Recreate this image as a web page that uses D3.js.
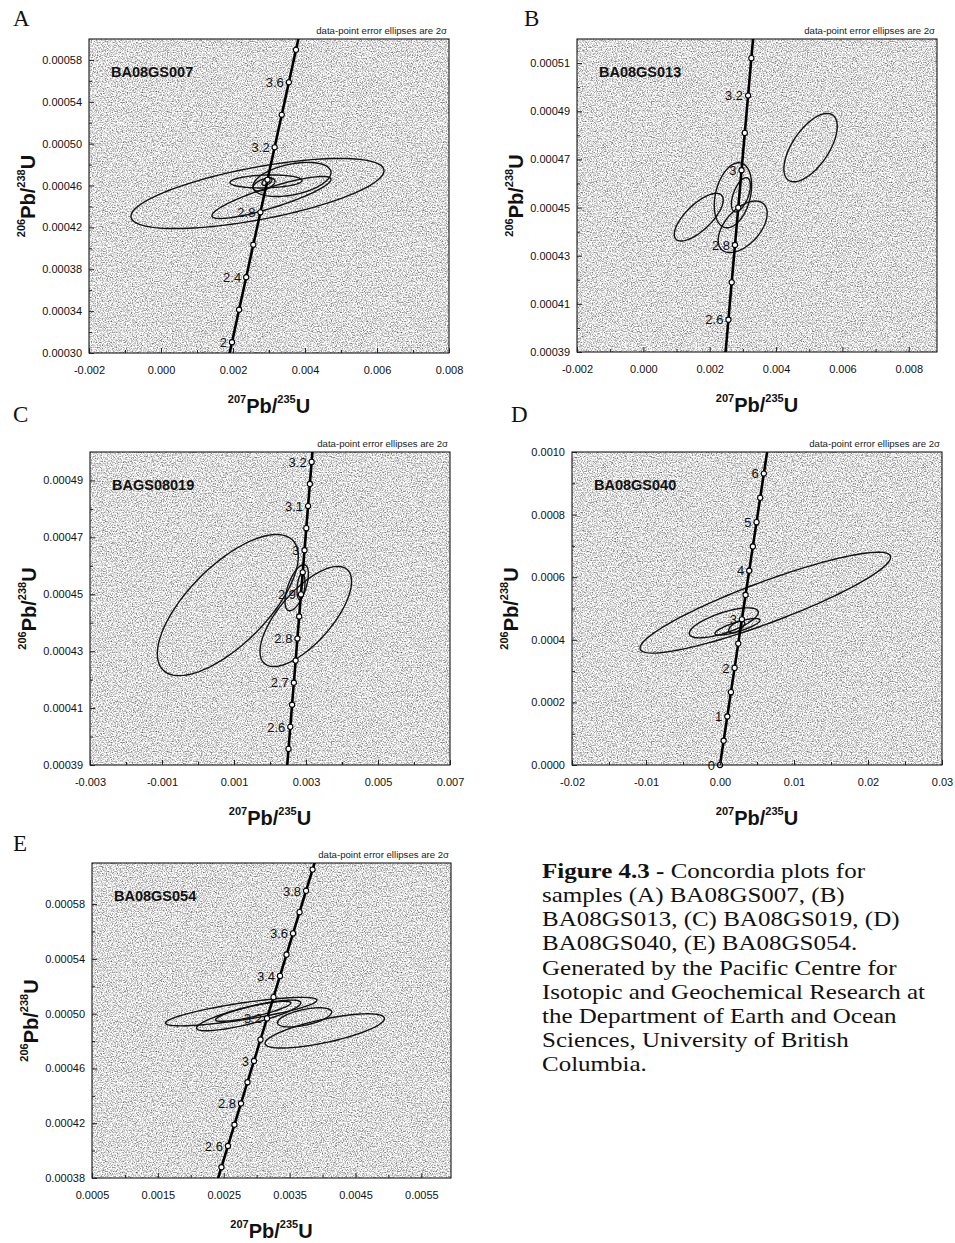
<!DOCTYPE html>
<html>
<head>
<meta charset="utf-8">
<script src="https://d3js.org/d3.v7.min.js"></script>
<style>
  body { margin: 0; background: #fff; }
  svg { display: block; }
</style>
</head>
<body>
<svg id="fig"></svg>
<script>
// panels
const panelLetters = ["A", "B", "C", "D", "E"];
const sampleNames = ["BA08GS007", "BA08GS013", "BAGS08019", "BA08GS040", "BA08GS054"];

// axis ranges (207Pb/235U on x, 206Pb/238U on y)
const xDomains = [[-0.002, 0.008], [-0.002, 0.00885], [-0.003, 0.007], [-0.02, 0.03], [0.0005, 0.00595]];
const yDomains = [[0.0003, 0.0006], [0.00039, 0.00052], [0.00039, 0.0005], [0, 0.001], [0.00038, 0.00061]];

// tick labels
const xTicks = [
  [-0.002, 0, 0.002, 0.004, 0.006, 0.008],
  [-0.002, 0, 0.002, 0.004, 0.006, 0.008],
  [-0.003, -0.001, 0.001, 0.003, 0.005, 0.007],
  [-0.02, -0.01, 0, 0.01, 0.02, 0.03],
  [0.0005, 0.0015, 0.0025, 0.0035, 0.0045, 0.0055]
];
const yTicks = [
  [0.0003, 0.00034, 0.00038, 0.00042, 0.00046, 0.0005, 0.00054, 0.00058],
  [0.00039, 0.00041, 0.00043, 0.00045, 0.00047, 0.00049, 0.00051],
  [0.00039, 0.00041, 0.00043, 0.00045, 0.00047, 0.00049],
  [0, 0.0002, 0.0004, 0.0006, 0.0008, 0.001],
  [0.00038, 0.00042, 0.00046, 0.0005, 0.00054, 0.00058]
];
const xFormats = [".3f", ".3f", ".3f", ".2f", ".4f"];
const yFormats = [".5f", ".5f", ".5f", ".4f", ".5f"];

// concordia points: [age Ma, 207Pb/235U, 206Pb/238U]
const concordiaA = [
  [1.8, 0.0017743, 0.00027926], [2.0, 0.0019716, 0.00031030], [2.2, 0.0021690, 0.00034133],
  [2.4, 0.0023664, 0.00037237], [2.6, 0.0025639, 0.00040341], [2.8, 0.0027614, 0.00043444],
  [3.0, 0.0029589, 0.00046548], [3.2, 0.0031565, 0.00049652], [3.4, 0.0033541, 0.00052756],
  [3.6, 0.0035518, 0.00055861], [3.8, 0.0037494, 0.00058965], [4.0, 0.0039472, 0.00062069]
];
const concordiaB = [
  [2.5, 0.0024652, 0.00038789], [2.6, 0.0025639, 0.00040341], [2.7, 0.0026626, 0.00041893],
  [2.8, 0.0027614, 0.00043444], [2.9, 0.0028602, 0.00044996], [3.0, 0.0029589, 0.00046548],
  [3.1, 0.0030577, 0.00048100], [3.2, 0.0031565, 0.00049652], [3.3, 0.0032553, 0.00051204],
  [3.4, 0.0033541, 0.00052756]
];
const concordiaC = [
  [2.50, 0.0024652, 0.00038789], [2.55, 0.0025145, 0.00039565], [2.60, 0.0025639, 0.00040341],
  [2.65, 0.0026133, 0.00041117], [2.70, 0.0026626, 0.00041893], [2.75, 0.0027120, 0.00042669],
  [2.80, 0.0027614, 0.00043444], [2.85, 0.0028108, 0.00044220], [2.90, 0.0028602, 0.00044996],
  [2.95, 0.0029095, 0.00045772], [3.00, 0.0029589, 0.00046548], [3.05, 0.0030083, 0.00047324],
  [3.10, 0.0030577, 0.00048100], [3.15, 0.0031071, 0.00048876], [3.20, 0.0031565, 0.00049652],
  [3.25, 0.0032059, 0.00050428]
];
const concordiaD = [
  [0, 0, 0], [0.5, 0.00049255, 0.000077566], [1.0, 0.00098534, 0.00015514],
  [1.5, 0.0014784, 0.00023271], [2.0, 0.0019716, 0.00031030], [2.5, 0.0024652, 0.00038789],
  [3.0, 0.0029589, 0.00046548], [3.5, 0.0034529, 0.00054308], [4.0, 0.0039472, 0.00062069],
  [4.5, 0.0044417, 0.00069831], [5.0, 0.0049364, 0.00077593], [5.5, 0.0054314, 0.00085355],
  [6.0, 0.0059266, 0.00093118], [6.5, 0.0064220, 0.00100882]
];
const concordiaE = [
  [2.4, 0.0023664, 0.00037237], [2.5, 0.0024652, 0.00038789], [2.6, 0.0025639, 0.00040341],
  [2.7, 0.0026626, 0.00041893], [2.8, 0.0027614, 0.00043444], [2.9, 0.0028602, 0.00044996],
  [3.0, 0.0029589, 0.00046548], [3.1, 0.0030577, 0.00048100], [3.2, 0.0031565, 0.00049652],
  [3.3, 0.0032553, 0.00051204], [3.4, 0.0033541, 0.00052756], [3.5, 0.0034529, 0.00054308],
  [3.6, 0.0035518, 0.00055861], [3.7, 0.0036506, 0.00057413], [3.8, 0.0037494, 0.00058965],
  [3.9, 0.0038483, 0.00060517], [4.0, 0.0039472, 0.00062069]
];

// labelled ages on the concordia
const ageLabelsA = [2, 2.4, 2.8, 3.2, 3.6];
const ageLabelsB = [2.6, 2.8, 3, 3.2];
const ageLabelsC = [2.6, 2.7, 2.8, 2.9, 3, 3.1, 3.2];
const ageLabelsD = [0, 1, 2, 3, 4, 5, 6];
const ageLabelsE = [2.6, 2.8, 3, 3.2, 3.4, 3.6, 3.8];

// error ellipses: [207Pb/235U, 206Pb/238U, 2s x, 2s y, rho]
const ellipsesA = [
  [0.00268, 0.0004524, 0.003514, 0.0000335, 0.65],
  [0.003069, 0.0004486, 0.001653, 0.0000201, 0.86],
  [0.003639, 0.0004658, 0.001083, 0.0000163, 0.4],
  [0.002917, 0.0004639, 0.001, 0.0000062, 0.15],
  [0.002861, 0.000461, 0.000306, 0.0000062, 0.5],
  [0.002944, 0.0004639, 0.000139, 0.0000038, 0.5]
];
const ellipsesB = [
  [0.005039, 0.0004749, 0.000804, 0.0000142, 0.62],
  [0.001669, 0.000446, 0.000738, 0.0000099, 0.72],
  [0.0027, 0.0004551, 0.000563, 0.0000135, 0.31],
  [0.002994, 0.000442, 0.000738, 0.0000107, 0.52],
  [0.00294, 0.0004553, 0.000286, 0.0000071, 0.55]
];
const ellipsesC = [
  [0.000828, 0.0004462, 0.001958, 0.0000248, 0.69],
  [0.002994, 0.0004422, 0.001272, 0.0000176, 0.7],
  [0.002742, 0.0004523, 0.000325, 0.0000081, 0.6],
  [0.002861, 0.0004527, 0.000111, 0.0000046, 0.3]
];
const ellipsesD = [
  [0.006122, 0.0005187, 0.016932, 0.0001612, 0.9],
  [0.000514, 0.0004542, 0.004662, 0.0000479, 0.7],
  [0.002365, 0.0004414, 0.00304, 0.0000265, 0.8],
  [0.002257, 0.0004414, 0.00108, 0.0000192, 0.6]
];
const ellipsesE = [
  [0.004033, 0.0004874, 0.000906, 0.0000125, 0.72],
  [0.003727, 0.0004973, 0.000411, 0.000007, 0.55],
  [0.002765, 0.0005015, 0.001149, 0.0000104, 0.8],
  [0.002879, 0.0004987, 0.000791, 0.0000112, 0.82],
  [0.002948, 0.0005017, 0.000571, 0.0000073, 0.84]
];

const captionLines = [
  "samples (A) BA08GS007, (B)",
  "BA08GS013, (C) BA08GS019, (D)",
  "BA08GS040, (E) BA08GS054.",
  "Generated by the Pacific Centre for",
  "Isotopic and Geochemical Research at",
  "the Department of Earth and Ocean",
  "Sciences, University of British",
  "Columbia."
];

const concordia = [concordiaA, concordiaB, concordiaC, concordiaD, concordiaE];
const ageLabels = [ageLabelsA, ageLabelsB, ageLabelsC, ageLabelsD, ageLabelsE];
const ellipses = [ellipsesA, ellipsesB, ellipsesC, ellipsesD, ellipsesE];

// plot frames on the page
const frames = [
  {left: 89, top: 39, right: 449, bottom: 353},
  {left: 577, top: 39, right: 937, bottom: 352},
  {left: 90, top: 452, right: 450, bottom: 765},
  {left: 572, top: 452, right: 942, bottom: 765},
  {left: 92, top: 863, right: 451, bottom: 1178}
];
const letterPos = [[13, 26], [524, 26], [13, 422], [511, 422], [13, 851]];

const sans = "'Liberation Sans', Arial, sans-serif";
const serif = "'Liberation Serif', 'Times New Roman', serif";
const fmt = d3.formatLocale({decimal: ".", thousands: ",", grouping: [3], currency: ["", ""], minus: "-"});

const svg = d3.select("#fig").attr("width", 955).attr("height", 1243);
const defs = svg.append("defs");

// speckled grey fill of the plot areas
const stip = defs.append("filter").attr("id", "stipple")
  .attr("x", 0).attr("y", 0).attr("width", 1).attr("height", 1)
  .attr("color-interpolation-filters", "sRGB");
stip.append("feTurbulence").attr("type", "fractalNoise")
  .attr("baseFrequency", 0.8).attr("numOctaves", 2).attr("seed", 7);
stip.append("feColorMatrix").attr("type", "matrix")
  .attr("values", "1.3 0 0 0 0.22  1.3 0 0 0 0.22  1.3 0 0 0 0.22  0 0 0 0 1");

function ellipsePoints(e) {
  const [cx, cy, sx, sy, rho] = e;
  const k = Math.sqrt(1 - rho * rho);
  return d3.range(0, 120).map(j => {
    const t = j / 120 * 2 * Math.PI;
    return [cx + sx * Math.cos(t), cy + sy * (rho * Math.cos(t) + k * Math.sin(t))];
  });
}

function midpoints(arr) {
  const out = [];
  for (let j = 0; j < arr.length - 1; j++) out.push((arr[j] + arr[j + 1]) / 2);
  return out;
}

function addRatio(text, sup1, sup2, big, small, shift) {
  text.append("tspan").attr("font-size", small).attr("dy", -shift).text(sup1);
  text.append("tspan").attr("font-size", big).attr("dy", shift).text("Pb/");
  text.append("tspan").attr("font-size", small).attr("dy", -shift).text(sup2);
  text.append("tspan").attr("font-size", big).attr("dy", shift).text("U");
}

function drawPanel(i) {
  const fr = frames[i];
  const x = d3.scaleLinear().domain(xDomains[i]).range([fr.left, fr.right]);
  const y = d3.scaleLinear().domain(yDomains[i]).range([fr.bottom, fr.top]);
  const g = svg.append("g");

  g.append("rect")
    .attr("x", fr.left).attr("y", fr.top)
    .attr("width", fr.right - fr.left).attr("height", fr.bottom - fr.top)
    .attr("fill", "#fff").attr("filter", "url(#stipple)");

  defs.append("clipPath").attr("id", "clip" + i).append("rect")
    .attr("x", fr.left).attr("y", fr.top)
    .attr("width", fr.right - fr.left).attr("height", fr.bottom - fr.top);
  const plot = g.append("g").attr("clip-path", `url(#clip${i})`);

  // error ellipses
  const eLine = d3.line().x(d => x(d[0])).y(d => y(d[1])).curve(d3.curveLinearClosed);
  plot.selectAll("path.ell")
    .data(ellipses[i])
    .join("path")
    .attr("class", "ell")
    .attr("d", d => eLine(ellipsePoints(d)))
    .attr("fill", "none")
    .attr("stroke", "#111")
    .attr("stroke-width", 1.4);

  // concordia curve
  const cLine = d3.line().x(d => x(d[1])).y(d => y(d[2]));
  plot.append("path")
    .attr("d", cLine(concordia[i]))
    .attr("fill", "none")
    .attr("stroke", "#000")
    .attr("stroke-width", 2.6);

  const yd = yDomains[i];
  const inside = concordia[i].filter(d => d[2] >= yd[0] - 1e-12 && d[2] <= yd[1]);
  g.selectAll("circle.age")
    .data(inside)
    .join("circle")
    .attr("class", "age")
    .attr("cx", d => x(d[1]))
    .attr("cy", d => y(d[2]))
    .attr("r", 2.6)
    .attr("fill", "#fff")
    .attr("stroke", "#000")
    .attr("stroke-width", 1.1);

  const labelled = inside.filter(d => ageLabels[i].some(a => Math.abs(a - d[0]) < 1e-6));
  g.selectAll("text.age")
    .data(labelled)
    .join("text")
    .attr("class", "age")
    .attr("x", d => x(d[1]) - 5)
    .attr("y", d => y(d[2]))
    .attr("dy", "0.36em")
    .attr("text-anchor", "end")
    .attr("font-family", sans)
    .attr("font-size", 13)
    .attr("fill", "#111")
    .text(d => String(d[0]));

  // frame
  g.append("rect")
    .attr("x", fr.left).attr("y", fr.top)
    .attr("width", fr.right - fr.left).attr("height", fr.bottom - fr.top)
    .attr("fill", "none").attr("stroke", "#000").attr("stroke-width", 1);

  // axes
  const xa = g.append("g").attr("transform", `translate(0,${fr.bottom})`)
    .call(d3.axisBottom(x).tickValues(xTicks[i]).tickSize(-5).tickPadding(13)
      .tickFormat(fmt.format(xFormats[i])));
  const xm = g.append("g").attr("transform", `translate(0,${fr.bottom})`)
    .call(d3.axisBottom(x).tickValues(midpoints(xTicks[i])).tickSize(-3).tickFormat(""));
  const ya = g.append("g").attr("transform", `translate(${fr.left},0)`)
    .call(d3.axisLeft(y).tickValues(yTicks[i]).tickSize(-5).tickPadding(7)
      .tickFormat(fmt.format(yFormats[i])));
  const ym = g.append("g").attr("transform", `translate(${fr.left},0)`)
    .call(d3.axisLeft(y).tickValues(midpoints(yTicks[i])).tickSize(-3).tickFormat(""));
  [xa, xm, ya, ym].forEach(a => {
    a.select(".domain").remove();
    a.attr("font-family", sans).attr("font-size", 11);
    a.selectAll("line").attr("stroke", "#222");
    a.selectAll("text").attr("fill", "#111");
  });

  // sample name and note
  g.append("text")
    .attr("x", fr.left + 22).attr("y", fr.top + 38)
    .attr("font-family", sans).attr("font-size", 14.5).attr("font-weight", "bold")
    .attr("fill", "#111")
    .text(sampleNames[i]);
  g.append("text")
    .attr("x", fr.right - 2).attr("y", fr.top - 5)
    .attr("text-anchor", "end")
    .attr("font-family", sans).attr("font-size", 9.6)
    .attr("fill", "#222")
    .text("data-point error ellipses are 2σ");

  // axis titles
  const xt = g.append("text")
    .attr("x", (fr.left + fr.right) / 2).attr("y", fr.bottom + 60)
    .attr("text-anchor", "middle")
    .attr("font-family", sans).attr("font-weight", "bold").attr("fill", "#111");
  addRatio(xt, "207", "235", 20, 11, 10);

  const ty = (fr.top + fr.bottom) / 2;
  const yt = g.append("text")
    .attr("transform", `translate(${fr.left - 54},${ty}) rotate(-90)`)
    .attr("text-anchor", "middle")
    .attr("font-family", sans).attr("font-weight", "bold").attr("fill", "#111");
  addRatio(yt, "206", "238", 20, 11, 10);

  // panel letter
  svg.append("text")
    .attr("x", letterPos[i][0]).attr("y", letterPos[i][1])
    .attr("font-family", serif).attr("font-size", 23).attr("fill", "#111")
    .text(panelLetters[i]);
}

panelLetters.forEach((p, i) => drawPanel(i));

// figure caption (tight leading, so a slightly smaller face stretched to the original width)
const capSize = 21;
const capStretch = 25 / 21;
const cap = svg.append("g")
  .attr("transform", `translate(542,0) scale(${capStretch},1)`)
  .attr("font-family", serif).attr("font-size", capSize).attr("fill", "#111");
const first = cap.append("text").attr("x", 0).attr("y", 878);
first.append("tspan").attr("font-weight", "bold").text("Figure 4.3 -");
first.append("tspan").text(" Concordia plots for");
cap.selectAll("text.line")
  .data(captionLines)
  .join("text")
  .attr("class", "line")
  .attr("x", 0)
  .attr("y", (d, j) => 878 + (j + 1) * 24.15)
  .text(d => d);
</script>
</body>
</html>
